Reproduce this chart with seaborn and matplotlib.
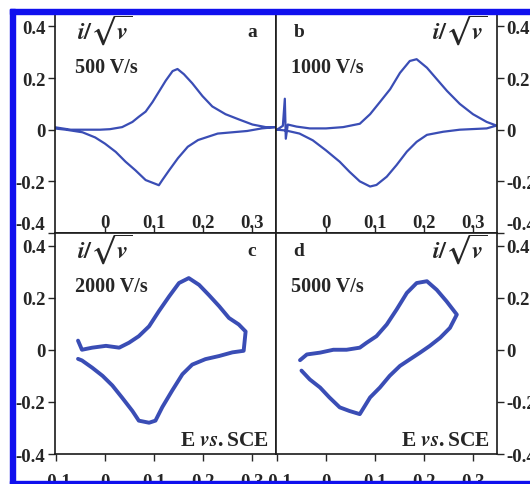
import numpy as np
import pandas as pd
import seaborn as sns
import matplotlib.pyplot as plt
from matplotlib.patches import Rectangle

# cyclic voltammograms, E (V vs SCE) and normalised current i/sqrt(v)
a_fwd_E = [-0.104, -0.07, -0.04, -0.01, 0.01, 0.035, 0.056, 0.069, 0.083, 0.097, 0.111, 0.124, 0.138, 0.148, 0.161, 0.178, 0.199, 0.219, 0.246, 0.273, 0.301, 0.328, 0.348]
a_fwd_i = [0.01, 0.0, 0.0, 0.0, 0.002, 0.01, 0.03, 0.05, 0.07, 0.107, 0.15, 0.19, 0.227, 0.235, 0.215, 0.18, 0.13, 0.09, 0.06, 0.04, 0.02, 0.01, 0.01]
a_rev_E = [0.348, 0.32, 0.29, 0.26, 0.23, 0.19, 0.169, 0.149, 0.131, 0.117, 0.11, 0.083, 0.062, 0.042, 0.022, 0.0, -0.02, -0.046, -0.08, -0.104]
a_rev_i = [0.01, 0.005, -0.005, -0.01, -0.015, -0.04, -0.066, -0.11, -0.157, -0.195, -0.215, -0.195, -0.157, -0.124, -0.086, -0.054, -0.03, -0.01, 0.0, 0.005]

b_fwd_E = [-0.1, -0.088, -0.084, -0.082, -0.078, -0.06, -0.033, 0.0, 0.035, 0.069, 0.09, 0.11, 0.131, 0.151, 0.171, 0.185, 0.206, 0.226, 0.247, 0.273, 0.3, 0.328, 0.348]
b_fwd_i = [0.0, 0.015, 0.12, -0.035, 0.02, 0.012, 0.005, 0.005, 0.01, 0.023, 0.06, 0.107, 0.157, 0.22, 0.266, 0.273, 0.24, 0.196, 0.15, 0.1, 0.06, 0.03, 0.016]
b_rev_E = [0.348, 0.328, 0.273, 0.239, 0.206, 0.185, 0.165, 0.144, 0.124, 0.103, 0.09, 0.069, 0.048, 0.028, 0.0, -0.027, -0.054, -0.082, -0.1]
b_rev_i = [0.016, 0.005, 0.0, -0.008, -0.02, -0.047, -0.085, -0.137, -0.182, -0.214, -0.22, -0.2, -0.163, -0.124, -0.08, -0.041, -0.015, -0.003, 0.0]

c_fwd_E = [-0.055, -0.047, -0.026, 0.002, 0.029, 0.049, 0.069, 0.09, 0.11, 0.131, 0.151, 0.171, 0.192, 0.212, 0.233, 0.253, 0.273, 0.287]
c_fwd_i = [0.035, 0.0, 0.008, 0.015, 0.008, 0.027, 0.052, 0.09, 0.148, 0.205, 0.256, 0.275, 0.249, 0.21, 0.167, 0.122, 0.097, 0.07]
c_rev_E = [0.287, 0.283, 0.26, 0.233, 0.205, 0.178, 0.158, 0.137, 0.117, 0.103, 0.09, 0.069, 0.056, 0.035, 0.015, -0.005, -0.026, -0.047, -0.055]
c_rev_i = [0.07, -0.004, -0.01, -0.024, -0.036, -0.057, -0.094, -0.157, -0.22, -0.272, -0.28, -0.272, -0.235, -0.184, -0.137, -0.1, -0.069, -0.041, -0.035]

d_fwd_E = [-0.053, -0.039, -0.012, 0.015, 0.042, 0.069, 0.083, 0.103, 0.124, 0.144, 0.165, 0.185, 0.206, 0.226, 0.246, 0.267]
d_fwd_i = [-0.04, -0.018, -0.011, 0.0, 0.0, 0.008, 0.027, 0.052, 0.097, 0.154, 0.218, 0.256, 0.263, 0.23, 0.186, 0.135]
d_rev_E = [0.267, 0.253, 0.233, 0.212, 0.192, 0.171, 0.151, 0.13, 0.11, 0.09, 0.069, 0.048, 0.028, 0.007, -0.012, -0.033, -0.05]
d_rev_i = [0.135, 0.084, 0.046, 0.015, -0.011, -0.037, -0.062, -0.1, -0.145, -0.183, -0.247, -0.235, -0.221, -0.183, -0.145, -0.114, -0.08]

rates = ['500 V/s', '1000 V/s', '2000 V/s', '5000 V/s']
letters = ['a', 'b', 'c', 'd']
yticks = [-0.4, -0.2, 0, 0.2, 0.4]
ylabels = ['-0.4', '-0.2', '0', '0.2', '0.4']
xticks_top = [0, 0.1, 0.2, 0.3]
xticks_bot = [-0.1, 0, 0.1, 0.2, 0.3]
xlabels_bot = ['-0.1', '0', '0.1', '0.2', '0.3']

sns.set_style('ticks')
plt.rcParams['font.family'] = ['Liberation Serif', 'DejaVu Serif']
plt.rcParams['font.weight'] = 'bold'
plt.rcParams['mathtext.fontset'] = 'stix'

blue = '#3a4db5'
W, H = 530, 485
fig = plt.figure(figsize=(W / 100, H / 100), dpi=100)

def box(l, t, r, b):
    return [l / W, (H - b) / H, (r - l) / W, (b - t) / H]

axes = [fig.add_axes(box(55, 15, 276, 234)), fig.add_axes(box(276, 15, 497, 234)),
        fig.add_axes(box(55, 234, 276, 455)), fig.add_axes(box(276, 234, 497, 455))]

curves = [(a_fwd_E + a_rev_E, a_fwd_i + a_rev_i),
          (b_fwd_E + b_rev_E, b_fwd_i + b_rev_i),
          (c_fwd_E + c_rev_E, c_fwd_i + c_rev_i),
          (d_fwd_E + d_rev_E, d_fwd_i + d_rev_i)]

for k, ax in enumerate(axes):
    E, i = curves[k]
    df = pd.DataFrame({'E': E, 'i': i})
    lw = 1.6 if k < 2 else 2.8
    sns.lineplot(data=df, x='E', y='i', sort=False, estimator=None, color=blue, lw=lw, ax=ax)
    ax.set_xlim(-0.102, 0.349)
    ax.set_ylim(-0.4, 0.448)
    ax.set_xlabel('')
    ax.set_ylabel('')
    for s in ax.spines.values():
        s.set_linewidth(1.2)
        s.set_color('#1a1a1a')
    ax.set_yticks(yticks)
    ax.set_yticklabels(ylabels)
    ax.tick_params(axis='y', direction='out', length=5, width=1, pad=2, labelsize=13.5)
    if k % 2 == 1:
        ax.yaxis.tick_right()
    if k < 2:
        # lowest label of the upper row sits a bit higher, like in the original
        ax.get_yticklabels()[0].set_va('bottom')
        ax.set_xticks(xticks_top)
        ax.set_xticklabels(['0', '0.1', '0.2', '0.3'])
        ax.tick_params(axis='x', direction='in', length=5, width=1, pad=-14, labelsize=13.5)
    else:
        ax.set_xticks(xticks_bot)
        ax.set_xticklabels(xlabels_bot)
        ax.tick_params(axis='x', direction='out', length=5, width=1, pad=9, labelsize=13.5)
        ax.text(0.97, 0.02, r'E $\mathit{vs.}$SCE', transform=ax.transAxes, ha='right', va='bottom',
                fontsize=15.5, fontweight='bold')
    left = k % 2 == 0
    ax.text(0.09 if left else 0.07, 0.76, rates[k], transform=ax.transAxes, ha='left', va='center',
            fontsize=14.5, fontweight='bold')
    ax.text(0.87 if left else 0.08, 0.92, letters[k], transform=ax.transAxes, ha='left', va='center',
            fontsize=14, fontweight='bold')
    ax.text(0.1 if left else 0.96, 0.93, r'$i/\sqrt{v}$', transform=ax.transAxes,
            ha='left' if left else 'right', va='center', fontsize=17.5)

# blue frame around the figure
for (l, t, r, b) in [(10, 10, 15, 485), (10, 10, 530, 15), (10, 482, 530, 485)]:
    fig.add_artist(Rectangle((l / W, (H - b) / H), (r - l) / W, (b - t) / H,
                             transform=fig.transFigure, color='#1010ee', zorder=10))

fig.savefig('out.png', dpi=100)
